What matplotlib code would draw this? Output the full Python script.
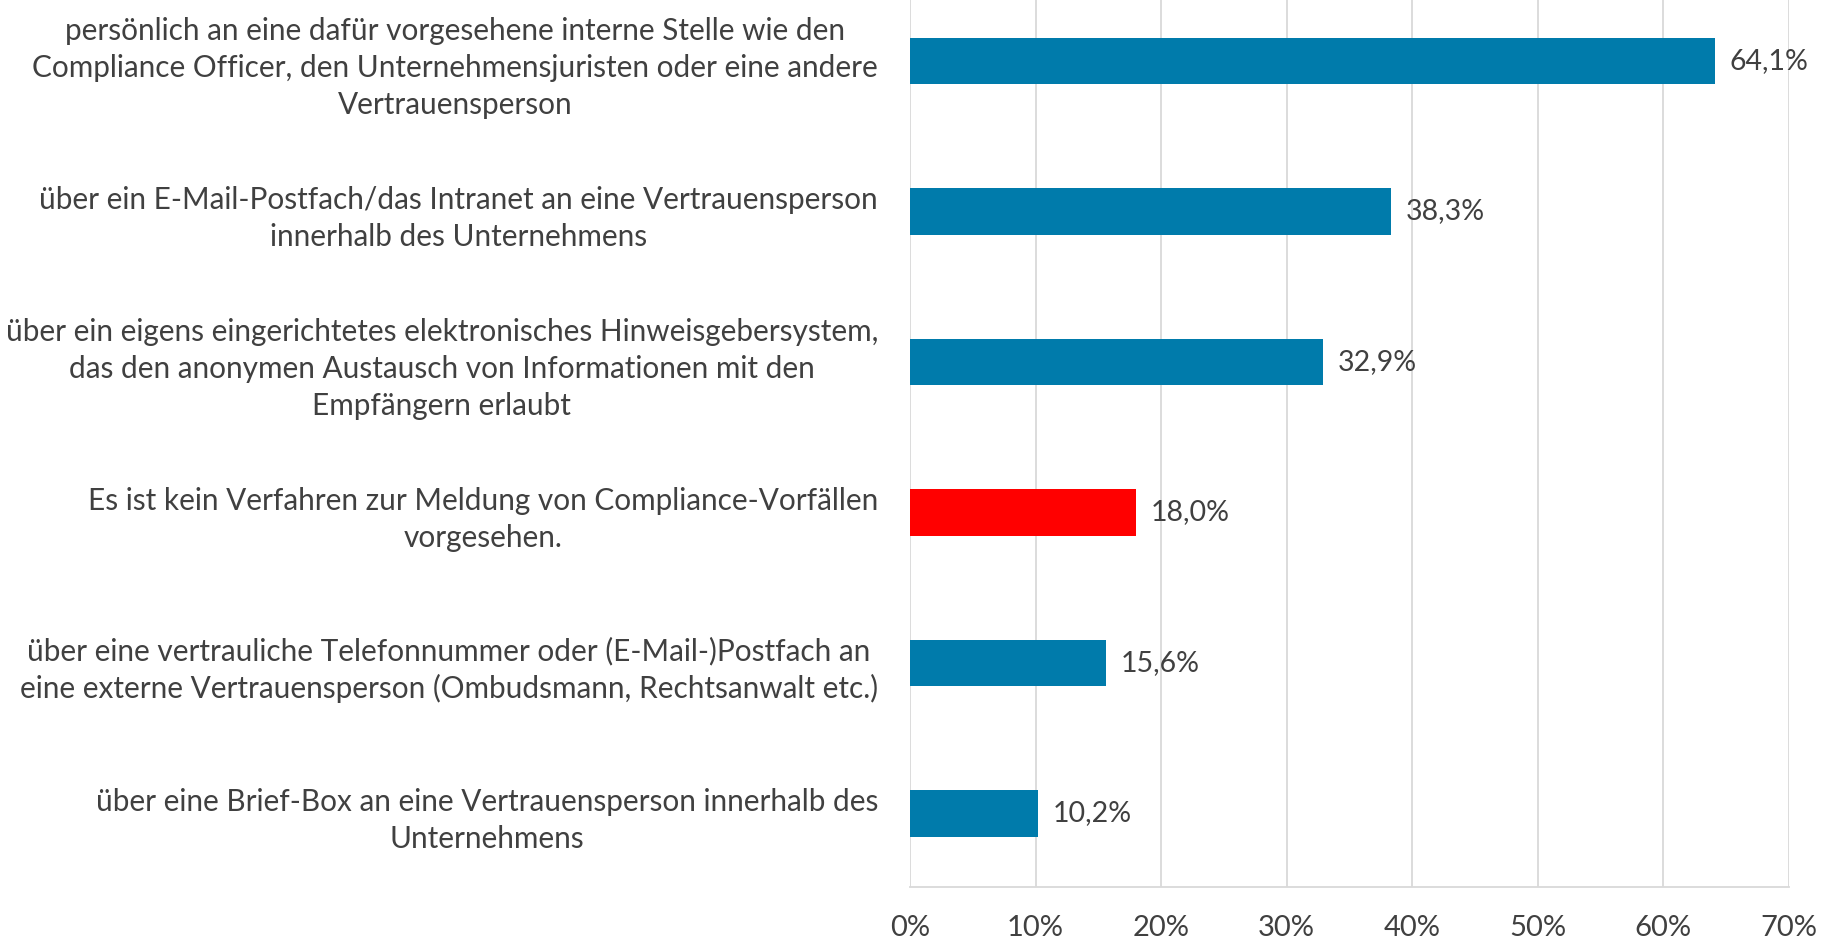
import numpy as np
import matplotlib
matplotlib.use("Agg")
import matplotlib.pyplot as plt
from matplotlib.ticker import MultipleLocator, FuncFormatter

plt.rcParams['font.family'] = ['Lato', 'DejaVu Sans']

# ── Daten ────────────────────────────────────────────────────────────────────
categories = [
    "persönlich an eine dafür vorgesehene interne Stelle wie den\n"
    "Compliance Officer, den Unternehmensjuristen oder eine andere\n"
    "Vertrauensperson",
    "über ein E-Mail-Postfach/das Intranet an eine Vertrauensperson\n"
    "innerhalb des Unternehmens",
    "über ein eigens eingerichtetes elektronisches Hinweisgebersystem,\n"
    "das den anonymen Austausch von Informationen mit den\n"
    "Empfängern erlaubt",
    "Es ist kein Verfahren zur Meldung von Compliance-Vorfällen\n"
    "vorgesehen.",
    "über eine vertrauliche Telefonnummer oder (E-Mail-)Postfach an\n"
    "eine externe Vertrauensperson (Ombudsmann, Rechtsanwalt etc.)",
    "über eine Brief-Box an eine Vertrauensperson innerhalb des\n"
    "Unternehmens",
]
values = [64.1, 38.3, 32.9, 18.0, 15.6, 10.2]
highlight = [False, False, False, True, False, False]

BLUE = "#007bab"
RED = "#ff0000"
TEXT = "#404040"
GRID = "#d9d9d9"

fig = plt.figure(figsize=(18.31, 9.43), dpi=100)
ax = fig.add_axes([0.497, 0.0594, 0.480, 0.9406])

y = np.arange(len(categories))
colors = [RED if h else BLUE for h in highlight]
bars = ax.barh(y, values, height=0.31, color=colors, zorder=3)

for b, v in zip(bars, values):
    ax.text(b.get_width() + 1.2, b.get_y() + b.get_height() / 2,
            f"{v:.1f}%".replace(".", ","), va="center", ha="left",
            fontsize=20.5, color=TEXT)

ax.set_xlim(0, 70)
ax.set_ylim(5.49, -0.406)
ax.xaxis.set_major_locator(MultipleLocator(10))
ax.xaxis.set_major_formatter(FuncFormatter(lambda v, _: f"{v:.0f}%"))
ax.set_yticks(y)
ax.set_yticklabels(categories, multialignment="center", linespacing=1.38)

ax.grid(axis="x", color=GRID, lw=1.3, zorder=0)
for s in ["top", "right", "left"]:
    ax.spines[s].set_visible(False)
ax.spines["bottom"].set_color(GRID)
ax.spines["bottom"].set_linewidth(1.3)

ax.tick_params(axis="y", length=0, pad=23, labelsize=21.4, labelcolor=TEXT)
ax.tick_params(axis="x", length=0, pad=20, labelsize=21, labelcolor=TEXT)

fig.savefig("out.png", dpi=100)
